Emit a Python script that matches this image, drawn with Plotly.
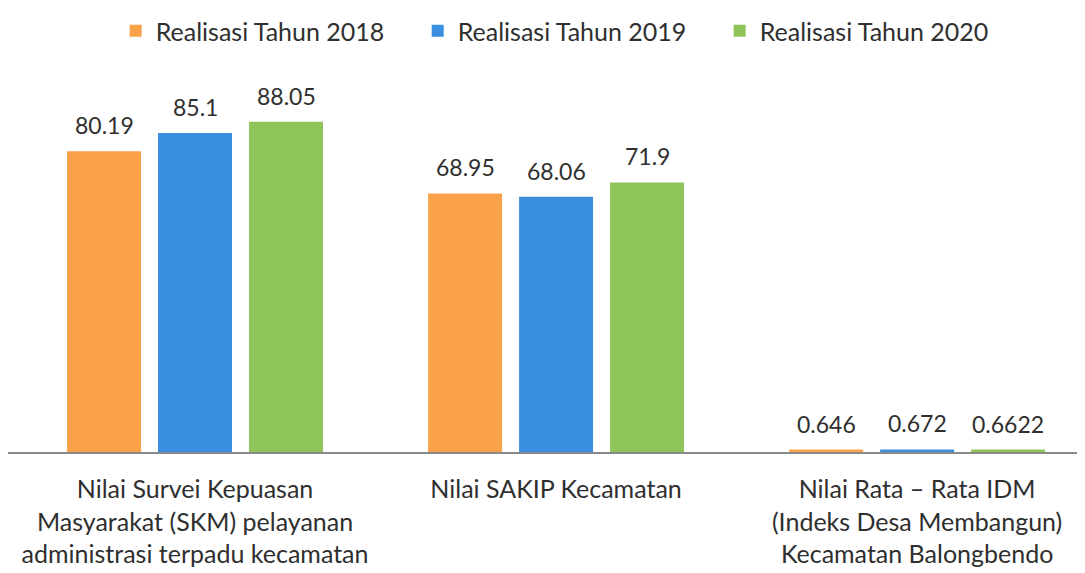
import plotly.graph_objects as go

categories = [
    "Nilai Survei Kepuasan<br>Masyarakat (SKM) pelayanan<br>administrasi terpadu kecamatan",
    "Nilai SAKIP Kecamatan",
    "Nilai Rata \u2013 Rata IDM<br>(Indeks Desa Membangun)<br>Kecamatan Balongbendo",
]
series_names = ["Realisasi Tahun 2018", "Realisasi Tahun 2019", "Realisasi Tahun 2020"]
values_2018 = [80.19, 68.95, 0.646]
values_2019 = [85.1, 68.06, 0.672]
values_2020 = [88.05, 71.9, 0.6622]
labels_2018 = ["80.19", "68.95", "0.646"]
labels_2019 = ["85.1", "68.06", "0.672"]
labels_2020 = ["88.05", "71.9", "0.6622"]

colors = ["#F9A24A", "#3A8EE0", "#8FC45A"]
FONT = "Lato, Open Sans, sans-serif"
TEXT = "#2f2f2f"

# pixel offset of each bar inside its group (group ~273px wide, 3 slots)
slot_shift = [-91, 0, 91]

fig = go.Figure()
for idx, (name, vals, labs, col) in enumerate(zip(
    series_names,
    [values_2018, values_2019, values_2020],
    [labels_2018, labels_2019, labels_2020],
    colors,
)):
    fig.add_trace(
        go.Bar(
            x=categories,
            y=vals,
            name=name,
            marker=dict(color=col, line=dict(width=0)),
            hoverinfo="name+y",
        )
    )
    # value labels above bars
    for cat, v, lab in zip(categories, vals, labs):
        fig.add_annotation(
            x=cat,
            y=v,
            xref="x",
            yref="y",
            text=lab,
            showarrow=False,
            xshift=slot_shift[idx],
            yshift=10,
            yanchor="bottom",
            font=dict(size=23, color=TEXT, family=FONT),
        )

# page body adds an 8px margin, so the figure is 8px smaller than the window
fig.update_layout(
    width=1077,
    height=565,
    paper_bgcolor="white",
    plot_bgcolor="white",
    font=dict(family=FONT, size=25, color=TEXT),
    barmode="group",
    bargap=0.244,
    bargroupgap=0.187,
    margin=dict(l=0, r=0, t=69, b=121, autoexpand=False),
    legend=dict(
        orientation="h",
        x=0.5206,
        xanchor="center",
        y=1.0,
        yanchor="top",
        yref="container",
        font=dict(size=25, color=TEXT, family=FONT),
        entrywidth=257,
        itemsizing="constant",
    ),
    xaxis=dict(
        type="category",
        range=[-0.518, 2.465],
        showline=True,
        linecolor="#8a8a8a",
        linewidth=2,
        ticks="",
        tickfont=dict(size=25, color=TEXT, family=FONT),
        ticklabelstandoff=14,
    ),
    yaxis=dict(
        range=[0, 100],
        visible=False,
        showgrid=False,
        zeroline=False,
    ),
)

fig.write_html("out.html")
